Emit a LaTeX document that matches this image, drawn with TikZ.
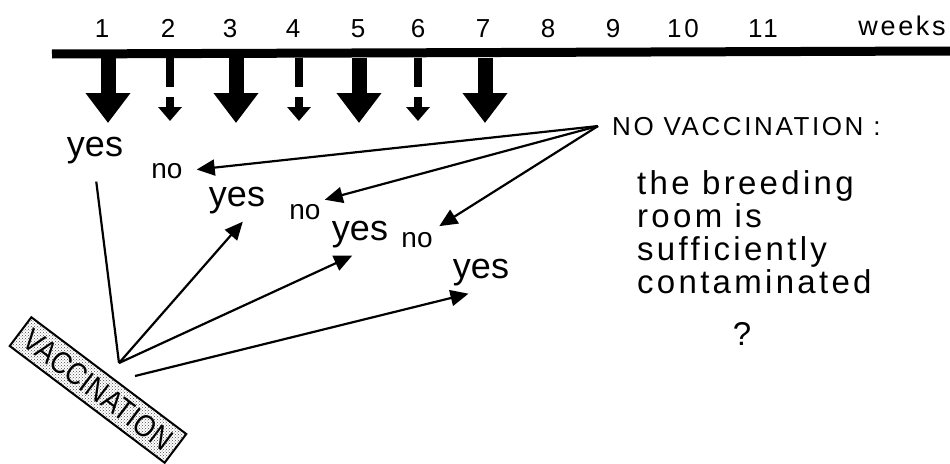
\documentclass[tikz,border=0pt]{standalone}
\usepackage{fontspec}
\setmainfont{Liberation Sans}[LetterSpace=10]
\usetikzlibrary{arrows.meta,positioning,patterns}
\tikzset{
  wk/.style={anchor=base,inner sep=0pt,font=\fontsize{26}{26}\selectfont},
  ans/.style={anchor=base,inner xsep=4pt,inner ysep=8pt,
    font=\fontsize{36}{36}\selectfont\addfontfeature{LetterSpace=0}},
  neg/.style={anchor=base,inner sep=4pt,
    font=\fontsize{28}{28}\selectfont\addfontfeature{LetterSpace=0}},
  bigarrow/.style={line width=15pt,-{Triangle[width=43pt,length=30pt]}},
  smallshaft/.style={line width=8pt},
  smallhead/.style={line width=8pt,-{Triangle[width=23pt,length=14pt]}},
  link/.style={line width=2.2pt,-{Triangle[width=16pt,length=18pt]}},
  vacbox/.style={draw,line width=2pt,pattern=crosshatch dots,pattern color=black!70,
    rotate=-37,minimum width=194pt,minimum height=36pt,inner sep=0pt,
    font=\fontsize{31}{31}\selectfont\addfontfeature{LetterSpace=0}}
}
\begin{document}
\begin{tikzpicture}[x=1pt,y=-1pt]
  \useasboundingbox (0,0) rectangle (950,463);

  % time axis
  \foreach \n/\x in {1/102,2/168,3/230,4/293,5/358,6/418,7/483,8/548,9/613,10/683,11/763}
    \node[wk] (w\n) at (\x,37) {\n};
  \node[wk,font=\fontsize{27}{27}\selectfont] (weeks) at (902,35) {weeks};
  \coordinate (barL) at (52,54);
  \coordinate (barR) at (950,51);
  \draw[line width=9pt] (barL) -- (barR);

  % vaccination weeks
  \foreach \i/\x in {1/108,3/236,5/359,7/485} {
    \coordinate (v\i) at (\x,58);
    \draw[bigarrow] (v\i) -- ++(0,65);
  }
  % no vaccination weeks
  \foreach \i/\x in {2/170,4/299,6/418} {
    \coordinate (v\i) at (\x,58);
    \draw[smallshaft] (v\i) -- ++(0,29);
    \draw[smallhead] (v\i) ++(0,39) -- ++(0,24);
  }

  % answers
  \node[ans] (yes1) at (95,156) {yes};
  \node[neg] (no1) at (167,178) {no};
  \node[ans] (yes2) at (237,206) {yes};
  \node[neg] (no2) at (305,219) {no};
  \node[ans] (yes3) at (360,240) {yes};
  \node[neg] (no3) at (417,247) {no};
  \node[ans] (yes4) at (481,278) {yes};

  % no vaccination
  \node[anchor=base west,inner sep=0pt,font=\fontsize{26}{26}\selectfont] (nvac) at (612,135) {NO VACCINATION :};
  \coordinate[left=14pt of nvac.west] (nv);
  \node[anchor=north west,align=left,inner sep=0pt,font=\fontsize{33}{33}\selectfont] (room) at (637,170)
    {the breeding\\room is\\sufficiently\\contaminated};
  \node[anchor=base,inner sep=0pt,font=\fontsize{33}{33}\selectfont] (qm) at (742,345) {?};
  \draw[link,shorten >=10pt] (nv) -- (no1.east);
  \draw[link] (nv) -- (no2.north east);
  \draw[link,shorten >=3pt] (nv) -- (no3.north east);

  % vaccination
  \node[vacbox] (vac) at (98,390) {\scalebox{0.86}[1]{VACCINATION}};
  \coordinate (vs) at (119,363);
  \coordinate (vs2) at (135,376);
  \draw[line width=2.2pt,shorten >=10pt] (vs) -- (yes1.south);
  \draw[link] (vs) -- (yes2.-75);
  \draw[link] (vs) -- (yes3.-110);
  \draw[link] (vs2) -- (yes4.-120);
\end{tikzpicture}
\end{document}
